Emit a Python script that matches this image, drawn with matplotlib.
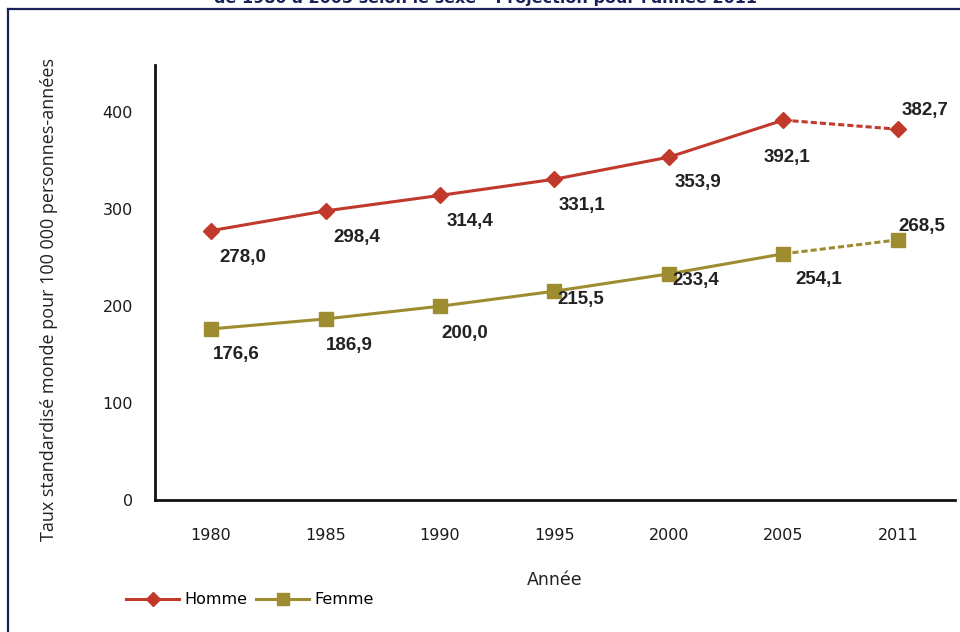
import matplotlib
matplotlib.use("Agg")
import matplotlib.pyplot as plt
from matplotlib.lines import Line2D

years = ["1980", "1985", "1990", "1995", "2000", "2005", "2011"]
homme = [278.0, 298.4, 314.4, 331.1, 353.9, 392.1, 382.7]
femme = [176.6, 186.9, 200.0, 215.5, 233.4, 254.1, 268.5]

# label offsets in pixels (dx, dy)
homme_off = [(32, -27), (31, -27), (30, -26), (28, -26), (29, -25), (4, -37), (27, 19)]
femme_off = [(25, -26), (24, -27), (25, -27), (26, -8), (27, -7), (35, -26), (24, 13)]

red = "#c0392a"
olive = "#9e8c30"
navy = "#1b2259"

fig = plt.figure(figsize=(9.6, 6.32), dpi=100)
ax = fig.add_axes([155/960, 132/632, 800/960, 435/632])

x = list(range(len(years)))
n = len(years) - 1

ax.plot(x[:n], homme[:n], color=red, lw=2.2, marker="D", ms=8, zorder=3)
ax.plot(x[n-1:], homme[n-1:], color=red, lw=2.2, ls=(0, (2, 1)), marker="D", ms=8,
        markevery=[1], zorder=3)
ax.plot(x[:n], femme[:n], color=olive, lw=2.2, marker="s", ms=10, zorder=3)
ax.plot(x[n-1:], femme[n-1:], color=olive, lw=2.2, ls=(0, (2, 1)), marker="s", ms=10,
        markevery=[1], zorder=3)

lab_font = dict(family="Liberation Sans", fontweight="bold", fontsize=13.5,
                color="#222222", ha="center", va="center")
for i in x:
    ax.annotate(f"{homme[i]:.1f}".replace(".", ","), (i, homme[i]),
                xytext=homme_off[i], textcoords="offset pixels", **lab_font)
    ax.annotate(f"{femme[i]:.1f}".replace(".", ","), (i, femme[i]),
                xytext=femme_off[i], textcoords="offset pixels", **lab_font)

ax.set_xlim(-0.49, 6.5)
ax.set_ylim(0, 449)
ax.set_xticks(x)
ax.set_xticklabels(years)
ax.set_yticks([0, 100, 200, 300, 400])
ax.tick_params(length=0, labelsize=11.5, labelcolor="#1a1a1a")
ax.tick_params(axis="x", pad=20)
ax.tick_params(axis="y", pad=16)
for s in ["top", "right"]:
    ax.spines[s].set_visible(False)
for s in ["left", "bottom"]:
    ax.spines[s].set_linewidth(2)
    ax.spines[s].set_color("#111111")

ax.set_ylabel("Taux standardisé monde pour 100 000 personnes-années",
              fontsize=13, family="Open Sans", color="#222222", va="center")
ax.yaxis.set_label_coords(-0.133, 0.46)
fig.text(555/960, 1 - 580/632, "Année", fontsize=12.5, ha="center", va="center",
         color="#222222")

# legend
h1 = Line2D([], [], color=red, lw=2.2, marker="D", ms=7)
h2 = Line2D([], [], color=olive, lw=2.2, marker="s", ms=8)
fig.legend([h1, h2], ["Homme", "Femme"], loc="center left",
           bbox_to_anchor=(120/960, 1 - 600/632), ncol=2, frameon=False,
           handlelength=3.3, handletextpad=0.3, columnspacing=0.6,
           fontsize=11.5, borderaxespad=0)

# title, cut at the top as in the source
fig.text(485/960, 1 - 3/632, "de 1980 à 2005 selon le sexe – Projection pour l'année 2011",
         fontsize=11.5, fontweight="bold", color=navy, ha="center", va="baseline")

# frame
fig.add_artist(Line2D([8/960, 1], [1 - 8.5/632, 1 - 8.5/632], color=navy, lw=1.6))
fig.add_artist(Line2D([8/960, 8/960], [0, 1 - 8.5/632], color=navy, lw=1.6))

fig.savefig("out.png", dpi=100)
